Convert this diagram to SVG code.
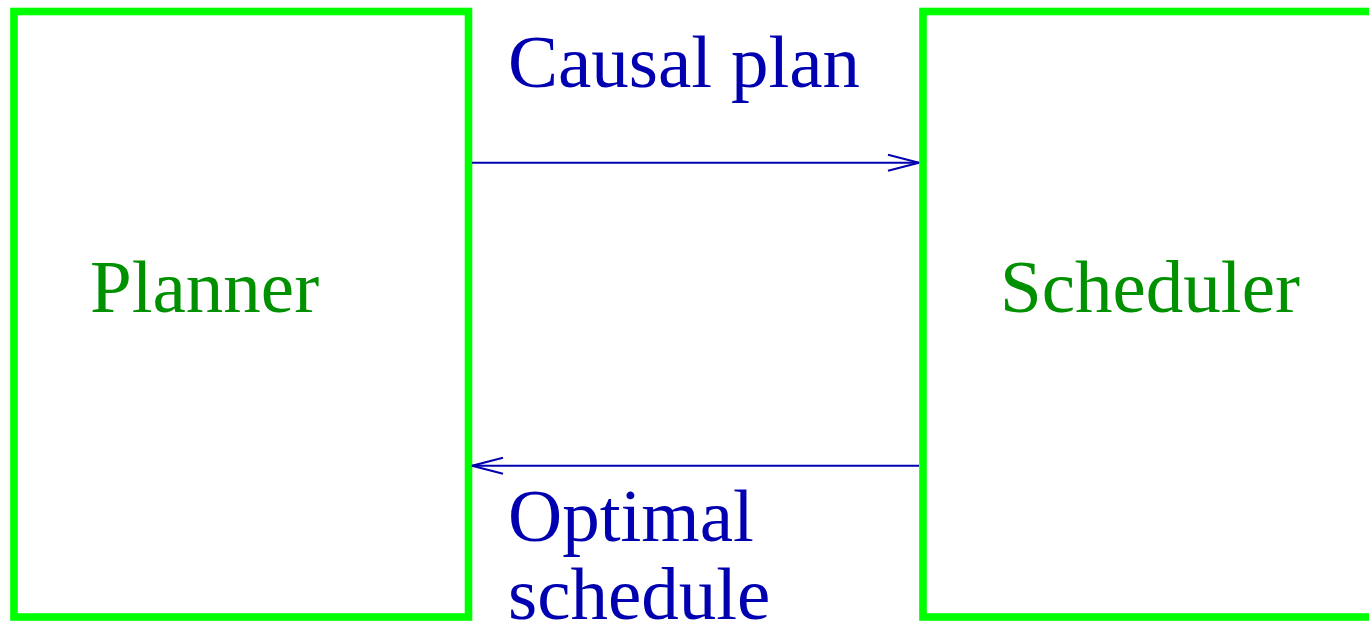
<svg xmlns="http://www.w3.org/2000/svg" width="1369" height="628" viewBox="0 0 1369 628">
<style>
.box{fill:none;stroke:#00ff00;stroke-width:7.6}
.node{font-family:"Liberation Serif",serif;font-size:75px;fill:#009000}
.lbl{font-family:"Liberation Serif",serif;font-size:75px;fill:#0000b0}
.conn{stroke:#0000b0;stroke-width:2;fill:none}
</style>
<defs>
<marker id="arr" markerUnits="userSpaceOnUse" markerWidth="40" markerHeight="24" refX="32" refY="12" orient="auto">
<path d="M1,4 L32,12 L1,20" fill="none" stroke="#0000b0" stroke-width="2"/>
</marker>
</defs>
<g id="planner">
<rect class="box" x="14" y="11.5" width="454.5" height="605.5"/>
<text class="node" x="90" y="312">Planner</text>
</g>
<g id="scheduler">
<rect class="box" x="923" y="11.5" width="460" height="605.5"/>
<text class="node" x="1000" y="312">Scheduler</text>
</g>
<g id="connectors">
<line class="conn" x1="472" y1="162.7" x2="919" y2="162.7" marker-end="url(#arr)"/>
<line class="conn" x1="919" y1="465.7" x2="472" y2="465.7" marker-end="url(#arr)"/>
<text class="lbl" x="508" y="87">Causal plan</text>
<text class="lbl" x="508" y="541">Optimal</text>
<text class="lbl" x="508" y="619">schedule</text>
</g>
</svg>
